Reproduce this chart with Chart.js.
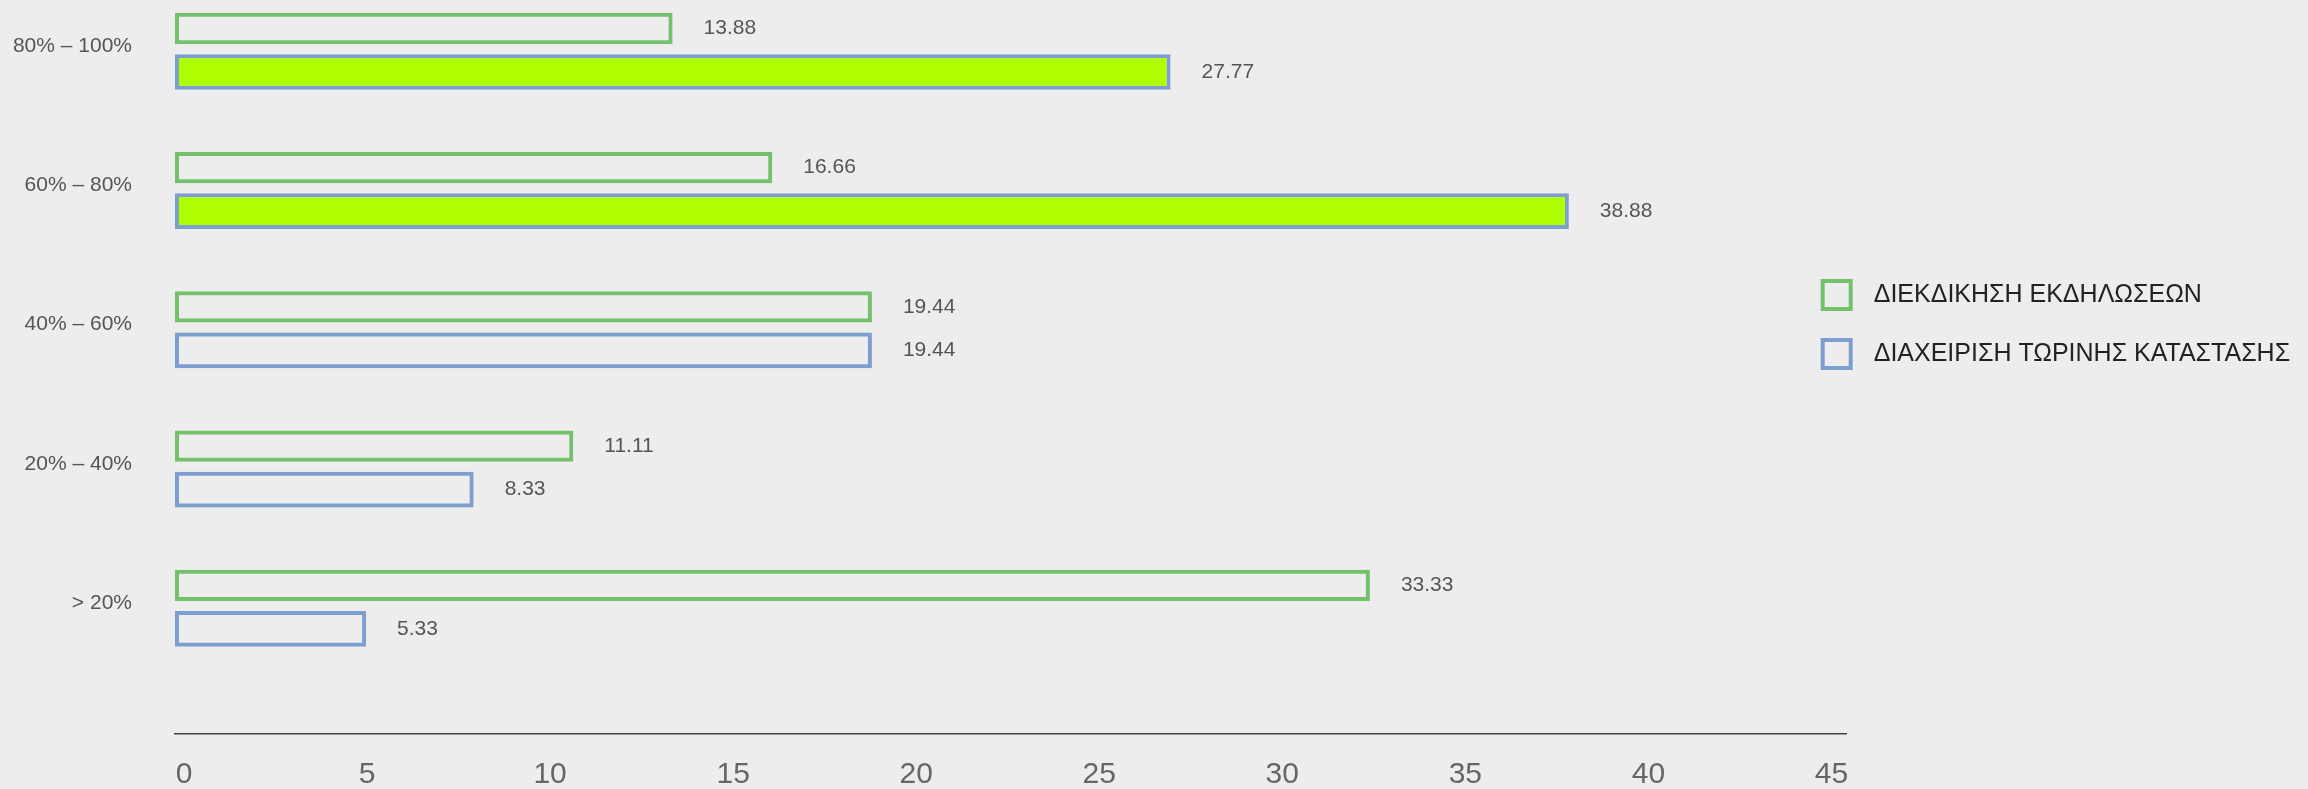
<!DOCTYPE html>
<html>
<head>
<meta charset="utf-8">
<script src="https://cdn.jsdelivr.net/npm/chart.js@4.4.0/dist/chart.umd.min.js"></script>
<style>
  html, body { margin: 0; padding: 0; background: #ededed; }
  #wrap { width: 2308px; height: 789px; position: relative; }
</style>
</head>
<body>
<div id="wrap"><canvas id="rangeChart"></canvas></div>
<script>
const categories = ["80% – 100%", "60% – 80%", "40% – 60%", "20% – 40%", "> 20%"];
const seriesNames = ["ΔΙΕΚΔΙΚΗΣΗ ΕΚΔΗΛΩΣΕΩΝ", "ΔΙΑΧΕΙΡΙΣΗ ΤΩΡΙΝΗΣ ΚΑΤΑΣΤΑΣΗΣ"];
const claimValues = [13.88, 16.66, 19.44, 11.11, 33.33];
const currentValues = [27.77, 38.88, 19.44, 8.33, 5.33];
const xTicks = [0, 5, 10, 15, 20, 25, 30, 35, 40, 45];

const GREEN = "#74c16c";
const BLUE = "#7c9fd0";
const LIME = "#afff00";

Chart.defaults.font.family = "'Liberation Sans', Arial, sans-serif";

// value printed to the right of every bar
const valueLabels = {
    id: "valueLabels",
    afterDatasetsDraw(chart) {
        const { ctx } = chart;
        ctx.save();
        ctx.font = "21px 'Liberation Sans', Arial, sans-serif";
        ctx.fillStyle = "#555";
        ctx.textAlign = "left";
        ctx.textBaseline = "middle";
        chart.data.datasets.forEach((ds, i) => {
            chart.getDatasetMeta(i).data.forEach((bar, j) => {
                ctx.fillText(ds.data[j].x.toFixed(2), bar.x + 31, bar.y);
            });
        });
        ctx.restore();
    }
};

// legend sits half over the plot, so it is drawn by hand
const sideLegend = {
    id: "sideLegend",
    afterDraw(chart) {
        const { ctx, chartArea } = chart;
        const x0 = chartArea.right - 26;
        ctx.save();
        chart.data.datasets.forEach((ds, i) => {
            const y = 295 + i * 59;
            ctx.lineWidth = 4;
            ctx.strokeStyle = ds.borderColor;
            ctx.strokeRect(x0 + 2, y - 14, 28, 28);
            ctx.fillStyle = "#222";
            ctx.font = "25px 'Liberation Sans', Arial, sans-serif";
            ctx.textAlign = "left";
            ctx.textBaseline = "middle";
            ctx.fillText(ds.label, x0 + 53, y);
        });
        ctx.restore();
    }
};

new Chart(document.getElementById("rangeChart"), {
    type: "bar",
    data: {
        datasets: [
            {
                label: seriesNames[0],
                data: claimValues.map((v, i) => ({ x: v, y: i })),
                backgroundColor: "rgba(0,0,0,0)",
                borderColor: GREEN,
                borderWidth: 4,
                borderSkipped: false,
                categoryPercentage: 0.625,
                barPercentage: 0.72,
                xAxisID: "xb",
                yAxisID: "y",
                clip: false,
            },
            {
                label: seriesNames[1],
                data: currentValues.map((v, i) => ({ x: v, y: i })),
                backgroundColor: [LIME, LIME, "rgba(0,0,0,0)", "rgba(0,0,0,0)", "rgba(0,0,0,0)"],
                borderColor: BLUE,
                borderWidth: 4,
                borderSkipped: false,
                categoryPercentage: 0.625,
                barPercentage: 0.82,
                xAxisID: "xb",
                yAxisID: "y",
                clip: false,
            }
        ]
    },
    options: {
        indexAxis: "y",
        responsive: true,
        maintainAspectRatio: false,
        animation: false,
        layout: { padding: { left: 0, top: 0, right: 461.3, bottom: 0 } },
        plugins: {
            legend: { display: false },
        },
        scales: {
            x: {
                type: "linear",
                position: "bottom",
                min: -0.246,
                max: 45.417,
                afterBuildTicks: axis => { axis.ticks = xTicks.map(v => ({ value: v })); },
                afterFit: axis => { axis.height = 55; },
                grid: { display: false, drawTicks: false },
                border: { display: true, color: "#444", width: 1.5 },
                ticks: { font: { size: 30 }, color: "#666", padding: 23, maxRotation: 0 }
            },
            // bars use their own (hidden) value axis, slightly wider than the printed one
            xb: { type: "linear", display: false, min: 0, max: 46.63 },
            y: {
                type: "linear",
                reverse: true,
                offset: false,
                min: -0.361,
                max: 4.912,
                afterBuildTicks: axis => { axis.ticks = categories.map((c, i) => ({ value: i })); },
                afterFit: axis => {
                    axis.width = 175;
                    axis.paddingTop = 0;
                    axis.paddingBottom = 0;
                },
                grid: { display: false, drawTicks: false, offset: false },
                border: { display: false },
                ticks: {
                    callback: v => categories[v],
                    font: { size: 21 },
                    color: "#555",
                    padding: 43,
                    labelOffset: -4
                }
            }
        }
    },
    plugins: [valueLabels, sideLegend]
});
</script>
</body>
</html>
